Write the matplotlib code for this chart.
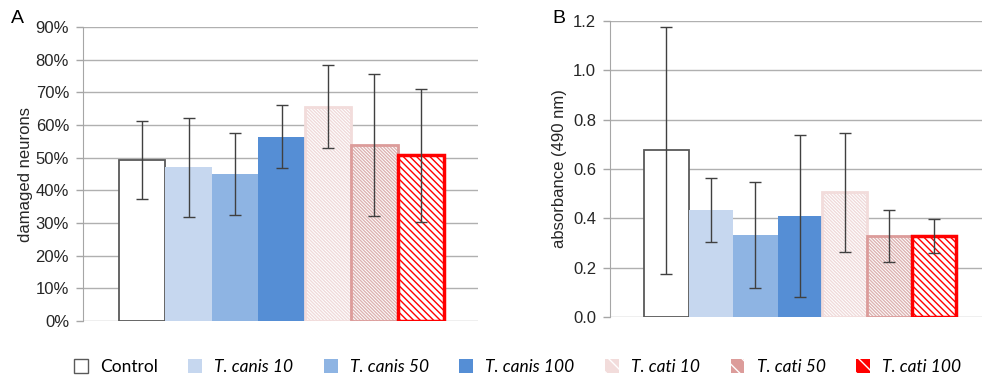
import numpy as np
import matplotlib.pyplot as plt
from matplotlib.patches import Patch

plt.rcParams['font.family'] = ['Liberation Sans', 'DejaVu Sans']
plt.rcParams['hatch.linewidth'] = 1.0

groups = ['Control', 'T. canis 10', 'T. canis 50', 'T. canis 100',
          'T. cati 10', 'T. cati 50', 'T. cati 100']
neurons = [49.3, 47.0, 45.1, 56.4, 65.6, 53.8, 50.7]
neurons_err = [12.0, 15.2, 12.5, 9.6, 12.7, 21.7, 20.3]
absorb = [0.675, 0.433, 0.332, 0.41, 0.505, 0.328, 0.328]
absorb_err = [0.50, 0.13, 0.215, 0.327, 0.24, 0.105, 0.07]

BS = chr(92)
# face, hatch colour, hatch, edge colour, edge width
styles = [
    ('white', None, None, '#595959', 1.3),
    ('#C6D7EF', None, None, '#C6D7EF', 0.0),
    ('#8EB4E3', None, None, '#8EB4E3', 0.0),
    ('#558ED5', None, None, '#558ED5', 0.0),
    ('white', '#F0DADA', BS * 10, '#F2DCDB', 2.0),
    ('white', '#DDB3B2', BS * 10, '#DC9C9A', 2.0),
    ('white', '#FF0000', BS * 5, '#FF0000', 2.5),
]

fig = plt.figure(figsize=(9.82, 3.81), dpi=100)
ax1 = fig.add_axes([0.0845, 0.1575, 0.4023, 0.7716])
ax2 = fig.add_axes([0.6212, 0.168, 0.3788, 0.7769])


def draw(ax, vals, errs):
    x = np.arange(len(vals))
    for i, (v, s) in enumerate(zip(vals, styles)):
        face, hcol, hatch, ecol, lw = s
        if hatch:
            ax.bar(x[i], v, width=1.0, color=face, edgecolor=hcol,
                   hatch=hatch, linewidth=0, zorder=2)
            ax.bar(x[i], v, width=1.0, fill=False, edgecolor=ecol,
                   linewidth=lw, zorder=3)
        else:
            ax.bar(x[i], v, width=1.0, color=face, edgecolor=ecol,
                   linewidth=lw, zorder=2)
    ax.errorbar(x, vals, yerr=errs, fmt='none', ecolor='#404040',
                elinewidth=1.0, capsize=4, capthick=1.0, zorder=4)
    for sp in ['top', 'right', 'bottom']:
        ax.spines[sp].set_visible(False)
    ax.spines['left'].set_color('#A6A6A6')
    ax.tick_params(axis='y', colors='#A6A6A6', labelcolor='#262626',
                   length=5, width=1, labelsize=12, pad=5)
    ax.tick_params(axis='x', length=0, labelbottom=False)
    ax.yaxis.grid(True, color='#B0B0B0', linewidth=1.0, zorder=0)
    ax.set_axisbelow(True)


draw(ax1, neurons, neurons_err)
ax1.set_xlim(-1.275, 7.23)
ax1.set_ylim(0, 90)
ax1.set_yticks(np.arange(0, 91, 10))
ax1.set_yticklabels([f'{t}%' for t in range(0, 91, 10)])
ax1.set_ylabel('damaged neurons', fontsize=12, color='#262626', labelpad=2)
fig.text(0.011, 0.94, 'A', fontsize=14, color='black')

draw(ax2, absorb, absorb_err)
ax2.set_xlim(-1.26, 7.08)
ax2.set_ylim(0, 1.2)
ax2.set_yticks(np.arange(0, 1.21, 0.2))
ax2.set_yticklabels([f'{t:.1f}' for t in np.arange(0, 1.21, 0.2)])
ax2.set_ylabel('absorbance (490 nm)', fontsize=12, color='#262626', labelpad=4)
fig.text(0.562, 0.94, 'B', fontsize=14, color='black')

handles = []
for face, hcol, hatch, ecol, lw in styles:
    if hatch:
        # legend keys: solid edge colour with white diagonal stripes
        handles.append(Patch(facecolor=ecol, edgecolor='white', hatch=BS * 2,
                             linewidth=0))
    elif lw > 0:
        handles.append(Patch(facecolor=face, edgecolor=ecol, linewidth=1.0))
    else:
        handles.append(Patch(facecolor=face, edgecolor=face, linewidth=0))
leg = fig.legend(handles, groups, ncol=7, loc='center left',
                 bbox_to_anchor=(0.0754, 0.037), frameon=False, borderpad=0,
                 borderaxespad=0, handlelength=0.8, handleheight=0.8,
                 handletextpad=0.7, columnspacing=1.75,
                 prop={'family': 'Lato', 'size': 12.5})
for i, t in enumerate(leg.get_texts()):
    if i > 0:
        t.set_style('italic')

fig.savefig('out.png', dpi=100)
